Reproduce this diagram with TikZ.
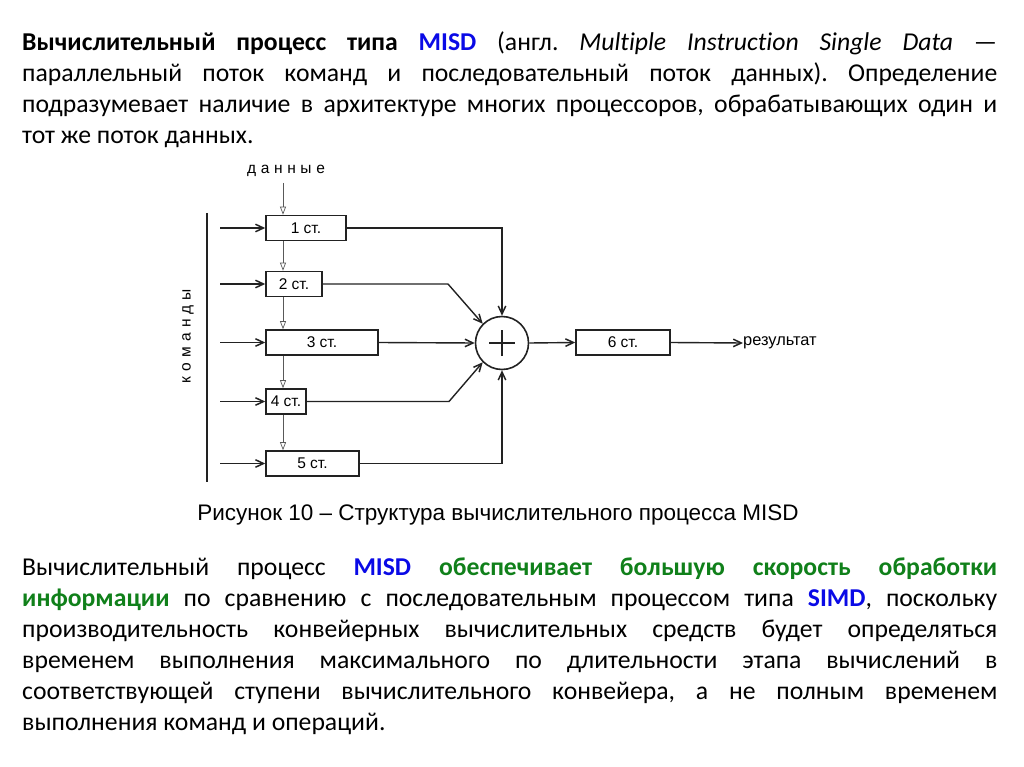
\documentclass[tikz,border=0pt]{standalone}
\usepackage{fontspec}
\setmainfont{Carlito}[Ligatures={TeX,NoCommon}]
\newfontfamily\arialfont{Liberation Sans}
\usepackage{xcolor}
\usetikzlibrary{arrows.meta,positioning}
\definecolor{misdblue}{HTML}{0A0AE6}
\definecolor{misdgreen}{HTML}{10801A}
\definecolor{darkgray}{HTML}{222222}
\frenchspacing
\tikzset{
  para/.style={anchor=north west,inner sep=0pt,text width=975pt,align=justify,
    font=\fontsize{25.7}{31}\selectfont},
  stage/.style={rectangle,draw=darkgray,line width=1.6pt,minimum height=25pt,inner sep=0pt,
    font=\arialfont\fontsize{15.5}{17}\selectfont},
  adderbox/.style={circle,draw=darkgray,line width=1.6pt,minimum size=53pt,inner sep=0pt},
  label/.style={inner sep=0pt,font=\arialfont\fontsize{15}{17}\selectfont},
  cmdarrow/.style={-{Straight Barb[length=8pt,width=7.5pt,line width=1.5pt]},line width=1.4pt,draw=darkgray},
  dataarrow/.style={-{Triangle[open,length=8pt,width=6pt]},line width=0.7pt,draw=black!65}
}
\newcommand{\misd}[1]{\textcolor{misdblue}{\textbf{#1}}}
\newcommand{\hilite}[1]{\textcolor{misdgreen}{\textbf{#1}}}
\begin{document}
\begin{tikzpicture}[x=1pt,y=-1pt]
\useasboundingbox (0,0) rectangle (1024,767);
% text above
\node[para] (intro) at (22,32) {\textbf{Вычислительный процесс типа} \misd{MISD} (англ. \textit{Multiple Instruction Single Data}~---\linebreak
параллельный поток команд и последовательный поток данных). Определение\linebreak
подразумевает наличие в архитектуре многих процессоров, обрабатывающих один и\linebreak
тот же поток данных.};
% diagram
\node[label,font=\arialfont\fontsize{15.5}{17}\selectfont\addfontfeature{LetterSpace=30}] (data) at (286,171) {данные};
\node[label,rotate=90,font=\arialfont\fontsize{15.5}{17}\selectfont\addfontfeature{LetterSpace=33}] (cmds) at (188,336) {команды};
\draw[line width=1.6pt,draw=darkgray] (207,213) -- (207,482);
\node[stage,minimum width=80pt] (s1) at (306,228) {1 ст.};
\node[stage,minimum width=56pt] (s2) at (294,284) {2 ст.};
\node[stage,minimum width=112pt] (s3) at (322,342.5) {3 ст.};
\node[stage,minimum width=40pt] (s4) at (286,401.5) {4 ст.};
\node[stage,minimum width=93pt] (s5) at (312.5,463.5) {5 ст.};
\node[adderbox] (adder) at (502,343) {};
\draw[line width=1.4pt,draw=darkgray] ([xshift=-13pt]adder.center) -- ([xshift=13pt]adder.center)
  ([yshift=-13pt]adder.center) -- ([yshift=13pt]adder.center);
\node[stage,minimum width=94pt] (s6) at (623,342.5) {6 ст.};
\node[label,anchor=west,font=\arialfont\fontsize{16.4}{18}\selectfont] (res) at (743,343) {результат};
% inputs of commands
\foreach \s in {s1,s2,s3,s4,s5}
  \draw[cmdarrow] (\s.west -| 220,0) -- (\s.west);
% data stream
\draw[dataarrow] ([yshift=-6pt]data.south -| 283,0) -- (s1.north -| 283,0);
\draw[dataarrow] (s1.south -| 283,0) -- (s2.north -| 283,0);
\draw[dataarrow] (s2.south -| 283,0) -- (s3.north -| 283,0);
\draw[dataarrow] (s3.south -| 283,0) -- (s4.north -| 283,0);
\draw[dataarrow] (s4.south -| 283,0) -- (s5.north -| 283,0);
% to the adder
\coordinate (k2) at (448,284);
\coordinate (k4) at (449,401.5);
\draw[cmdarrow] (s1.east) -| (adder.north);
\draw[cmdarrow] (s2.east) -- (k2) -- (adder.135);
\draw[cmdarrow] (s3.east) -- (adder.west);
\draw[cmdarrow] (s4.east) -- (k4) -- (adder.225);
\draw[cmdarrow] (s5.east) -| (adder.south);
\draw[cmdarrow] (adder.east) -- (s6.west);
\draw[cmdarrow] (s6.east) -- (res.west);
% caption
\node[label,font=\arialfont\fontsize{22.5}{25}\selectfont] (caption) at (498,515) {Рисунок 10 – Структура вычислительного процесса MISD};
% text below
\node[para] (outro) at (22,558) {Вычислительный процесс \misd{MISD} \hilite{обеспечивает большую скорость обработки}\linebreak
\hilite{информации} по сравнению с последовательным процессом типа \misd{SIMD}, поскольку\linebreak
производительность конвейерных вычислительных средств будет определяться\linebreak
временем выполнения максимального по длительности этапа вычислений в\linebreak
соответствующей ступени вычислительного конвейера, а не полным временем\linebreak
выполнения команд и операций.};
\end{tikzpicture}
\end{document}
